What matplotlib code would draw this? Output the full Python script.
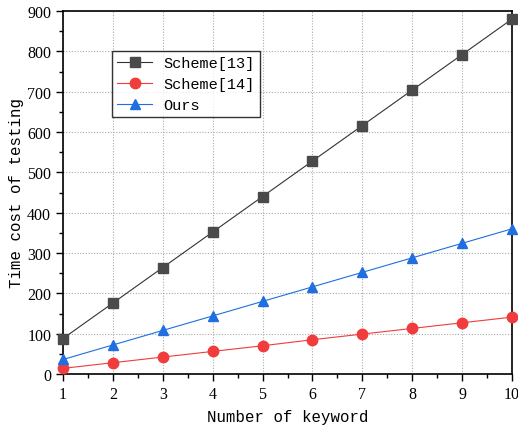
import matplotlib.pyplot as plt
from matplotlib.ticker import MultipleLocator

keywords = [1, 2, 3, 4, 5, 6, 7, 8, 9, 10]
scheme13 = [88, 176, 264, 352, 440, 528, 616, 704, 792, 880]
scheme14 = [14, 28, 42, 56, 70, 85, 99, 113, 127, 141]
ours = [36, 72, 108, 144, 180, 216, 252, 288, 324, 360]

plt.rcParams["font.family"] = ["Liberation Mono", "DejaVu Sans Mono"]

fig = plt.figure(figsize=(5.18, 4.31), dpi=100)
ax = fig.add_axes([63 / 518, 1 - 375 / 431, 449 / 518, 363 / 431])

ax.plot(keywords, scheme13, color="#333333", lw=0.8, marker="s", ms=6.5,
        mfc="#4a4a4a", mec="#4a4a4a", label="Scheme[13]", clip_on=False, zorder=3)
ax.plot(keywords, scheme14, color="#f03c3c", lw=0.8, marker="o", ms=7.5,
        mfc="#f03c3c", mec="#f03c3c", label="Scheme[14]", clip_on=False, zorder=3)
ax.plot(keywords, ours, color="#1f6fe0", lw=0.8, marker="^", ms=7.5,
        mfc="#1f6fe0", mec="#1f6fe0", label="Ours", clip_on=False, zorder=3)

ax.set_xlim(1, 10)
ax.set_ylim(0, 900)
ax.xaxis.set_major_locator(MultipleLocator(1))
ax.xaxis.set_minor_locator(MultipleLocator(0.5))
ax.yaxis.set_major_locator(MultipleLocator(100))
ax.yaxis.set_minor_locator(MultipleLocator(50))
ax.tick_params(which="major", direction="out", length=5, width=1)
ax.tick_params(which="minor", direction="out", length=3, width=1)
for lbl in ax.get_xticklabels() + ax.get_yticklabels():
    lbl.set_family(["Liberation Serif", "DejaVu Serif"])
    lbl.set_fontsize(11.5)
for s in ax.spines.values():
    s.set_linewidth(1.2)

ax.grid(True, which="major", color="#aaaaaa", linestyle=(0, (1, 1.5)), lw=0.8)
ax.set_axisbelow(True)

ax.set_xlabel("Number of keyword", fontsize=11.3, labelpad=5)
ax.set_ylabel("Time cost of testing", fontsize=11.3, labelpad=2)

leg = ax.legend(loc="upper left", bbox_to_anchor=(0.109, 0.89), fontsize=11,
                frameon=True, fancybox=False, edgecolor="black",
                handlelength=2.3, handletextpad=0.7, borderpad=0.35,
                labelspacing=0.45, borderaxespad=0)
leg.get_frame().set_linewidth(1.0)

fig.savefig("out.png", dpi=100)
